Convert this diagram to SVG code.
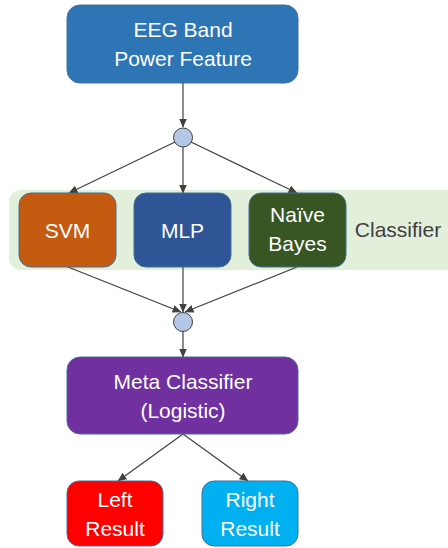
<svg xmlns="http://www.w3.org/2000/svg" width="448" height="548" viewBox="0 0 448 548">
  <defs>
    <marker id="arrow" markerWidth="9" markerHeight="8" refX="8.5" refY="4" orient="auto" markerUnits="userSpaceOnUse">
      <path d="M0,0 L9,4 L0,8 Z" fill="#404040"/>
    </marker>
  </defs>
  <style>
    .box { stroke: #41719c; stroke-width: 1; }
    .lbl { font-family: "Liberation Sans", Arial, sans-serif; font-size: 21px; fill: #ffffff; text-anchor: middle; }
    .dot { fill: #b4c7e7; stroke: #404040; stroke-width: 1; }
    .edge { stroke: #404040; stroke-width: 1.2; fill: none; marker-end: url(#arrow); }
  </style>
  <rect width="448" height="548" fill="#ffffff"/>

  <!-- classifier band -->
  <g id="classifier-band">
    <rect x="9" y="190" width="450" height="80" rx="12" fill="#e2efda"/>
    <text x="398" y="237" style="font-family: 'Liberation Sans', Arial, sans-serif; font-size: 21px; fill: #404040; text-anchor: middle;">Classifier</text>
  </g>

  <!-- connectors -->
  <g id="connectors">
    <line class="edge" x1="183" y1="83" x2="183" y2="127"/>
    <line class="edge" x1="175" y1="142" x2="69" y2="193"/>
    <line class="edge" x1="183" y1="147" x2="183" y2="193"/>
    <line class="edge" x1="191" y1="142" x2="297" y2="193"/>
    <line class="edge" x1="68" y1="267" x2="181" y2="312"/>
    <line class="edge" x1="183" y1="267" x2="183" y2="312"/>
    <line class="edge" x1="297" y1="267" x2="185" y2="312"/>
    <line class="edge" x1="183" y1="332" x2="183" y2="357"/>
    <line class="edge" x1="183" y1="434" x2="118" y2="481"/>
    <line class="edge" x1="183" y1="434" x2="248" y2="481"/>
  </g>

  <g id="eeg-feature">
    <rect class="box" x="67" y="5" width="231" height="78" rx="13" fill="#2e75b6"/>
    <text class="lbl" x="183" y="37">EEG Band</text>
    <text class="lbl" x="183" y="66">Power Feature</text>
  </g>

  <g id="split-node">
    <circle class="dot" cx="183" cy="137.5" r="9.5"/>
  </g>

  <g id="svm">
    <rect class="box" x="19" y="193" width="97" height="74" rx="12" fill="#c55a11"/>
    <text class="lbl" x="67.5" y="238">SVM</text>
  </g>

  <g id="mlp">
    <rect class="box" x="134" y="193" width="97" height="74" rx="12" fill="#2f5597"/>
    <text class="lbl" x="182.5" y="238">MLP</text>
  </g>

  <g id="naive-bayes">
    <rect class="box" x="249" y="193" width="97" height="74" rx="12" fill="#375623"/>
    <text class="lbl" x="297.5" y="222">Naïve</text>
    <text class="lbl" x="297.5" y="251">Bayes</text>
  </g>

  <g id="merge-node">
    <circle class="dot" cx="183" cy="322" r="9.5"/>
  </g>

  <g id="meta-classifier">
    <rect class="box" x="67" y="357" width="231" height="77" rx="13" fill="#7030a0"/>
    <text class="lbl" x="183" y="389">Meta Classifier</text>
    <text class="lbl" x="183" y="418">(Logistic)</text>
  </g>

  <g id="left-result">
    <rect class="box" x="67" y="481" width="96" height="65" rx="12" fill="#ff0000"/>
    <text class="lbl" x="115" y="507">Left</text>
    <text class="lbl" x="115" y="536">Result</text>
  </g>

  <g id="right-result">
    <rect class="box" x="202" y="481" width="96" height="65" rx="12" fill="#00b0f0"/>
    <text class="lbl" x="250" y="507">Right</text>
    <text class="lbl" x="250" y="536">Result</text>
  </g>
</svg>
